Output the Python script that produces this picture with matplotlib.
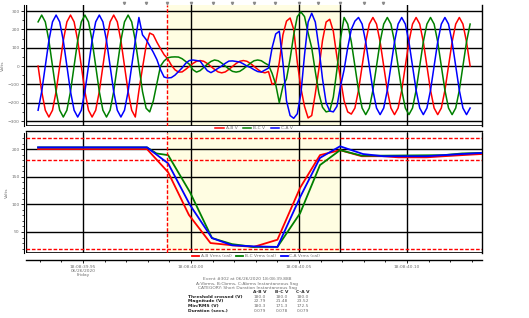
import numpy as np
import matplotlib
matplotlib.use("Agg")
import matplotlib.pyplot as plt
from matplotlib.ticker import MultipleLocator, FixedLocator, NullFormatter

# ---- waveform samples (V), 12 samples per 50 Hz cycle ----
wave_t0 = -20.8          # ms, first sample (relative to 18:08:39.95)
wave_dt = 20.0 / 12      # ms between samples

v_ab = [0, -139, -241, -278, -241, -139, 0, 139, 241, 278, 241, 139,
        0, -139, -241, -278, -241, -139, 0, 139, 241, 278, 241, 139,
        0, -139, -241, -278, -135, -10, 110, 180, 170, 130, 95, 62,
        40, 5, -20, -33, -32, -18, -2, 14, 26, 30, 26, 14,
        -2, -18, -32, -37, -32, -18, -2, 14, 26, 30, 26, 14,
        -2, -18, -32, -37, -30, -100, -90, 20, 170, 245, 262, 200,
        20, -120, -220, -283, -270, -150, -15, 140, 240, 255, 190, 50,
        -70, -190, -250, -262, -229, -132, 0, 132, 229, 265, 229, 132,
        0, -132, -229, -265, -229, -132, 0, 132, 229, 265, 229, 132,
        0, -132, -229, -265, -229, -132, 0, 132, 229, 265, 229, 132,
        0]
v_bc = [241, 278, 241, 139, 0, -139, -241, -278, -241, -139, 0, 139,
        241, 278, 241, 139, 0, -139, -241, -278, -241, -139, 0, 139,
        241, 278, 241, 139, 0, -139, -230, -250, -190, -95, 0, 28,
        45, 49, 50, 49, 40, 25, 10, -20, -33, -25, -8, 10,
        25, 33, 29, 16, 0, -16, -29, -33, -29, -16, 0, 16,
        29, 33, 29, 16, 5, -40, -100, -200, -110, -70, 40, 170,
        270, 295, 270, 180, 100, -30, -150, -225, -250, -245, -170, -20,
        150, 265, 229, 132, 0, -132, -229, -265, -229, -132, 0, 132,
        229, 265, 229, 132, 0, -132, -229, -265, -229, -132, 0, 132,
        229, 265, 229, 132, 0, -132, -229, -265, -229, -132, 0, 132,
        229]
v_ca = [-241, -139, 0, 139, 241, 278, 241, 139, 0, -139, -241, -278,
        -241, -139, 0, 139, 241, 278, 241, 139, 0, -139, -241, -278,
        -241, -139, 0, 139, 265, 170, 145, 110, 75, 35, -20, -60,
        -65, -63, -50, -30, -10, 15, 30, 33, 30, 27, 0, -25,
        -36, -25, -12, 0, 15, 27, 28, 25, 22, 12, 0, -8,
        -20, -30, -33, -22, -11, 100, 175, 190, 20, -190, -270, -285,
        -260, -150, 60, 240, 288, 240, 100, -70, -200, -245, -250, -220,
        -110, -20, 100, 200, 245, 265, 229, 132, 0, -132, -229, -265,
        -229, -132, 0, 132, 229, 265, 229, 132, 0, -132, -229, -265,
        -229, -132, 0, 132, 229, 265, 229, 132, 0, -132, -229, -265,
        -229]

# ---- half-cycle RMS (V) ----
rms_ab_t = [-20.8, 29.6, 39.4, 49.0, 59.0, 69.0, 79.0, 90.0, 100.5, 109.7, 119.0, 129.0, 139.0, 146.0, 159.0, 167.0, 175.5, 184.7]
rms_ab = [200, 200, 158, 81, 30, 26, 23, 36, 130, 189, 198, 187, 187, 185, 185, 187, 189, 191]
rms_bc_t = [-20.8, 29.6, 34.0, 39.4, 49.5, 59.7, 69.0, 79.0, 90.0, 100.5, 109.7, 119.0, 129.0, 139.0, 167.0, 175.5, 184.7]
rms_bc = [203, 203, 192, 189, 122, 39, 28, 23, 23, 84, 171, 198, 188, 188, 189, 192, 193]
rms_ca_t = [-20.8, 29.6, 39.4, 49.5, 59.7, 69.0, 79.0, 90.0, 100.5, 109.7, 119.0, 129.6, 139.0, 159.0, 167.0, 175.5, 184.7]
rms_ca = [203, 203, 174, 99, 39, 26, 24, 23, 113, 184, 205, 191, 187, 187, 189, 191, 193]

thresholds = [220, 180, 20]
sag_start, sag_end = 38.9, 119.0
marker_times = [19, 29, 39, 50, 60, 69, 79, 89, 100, 109, 119, 130, 139]

time_ticks = [0, 50, 100, 150]
time_labels = ["18:08:39.95\n06/26/2020\nFriday", "18:08:40.00", "18:08:40.05", "18:08:40.10"]

summary_cols = ["A-B V", "B-C V", "C-A V"]
summary_rows = ["Threshold crossed (V)", "Magnitude (V)", "Min/RMS (V)", "Duration (secs.)"]
summary_vals = [["180.0", "180.0", "180.0"],
                ["22.79", "21.48", "23.52"],
                ["180.3", "171.3", "172.5"],
                ["0.079", "0.078", "0.079"]]

RED, GREEN, BLUE = "#ff0000", "#008000", "#0000ff"
FS = 3.2
GRAY = "#707070"
DASH = (0, (2.6, 1.3))

W, H = 529, 318
fig = plt.figure(figsize=(W / 100, H / 100), dpi=100)


def box(l, t, r, b):
    return [l / W, 1 - b / H, (r - l) / W, (b - t) / H]


ax1 = fig.add_axes(box(26, 5, 482, 126))
ax2 = fig.add_axes(box(26, 133, 482, 253))

xlim = (-26.4, 184.7)
for ax in (ax1, ax2):
    ax.set_xlim(*xlim)
    ax.axvspan(sag_start, sag_end, color="#fffde2", zorder=0, lw=0)
    for x in time_ticks + [sag_end]:
        ax.axvline(x, color="black", lw=1, zorder=1)
    ax.axvline(sag_start, color=RED, lw=1, ls=DASH, zorder=4)
    ax.axvline(xlim[0], color="black", lw=1, zorder=1)
    ax.spines["top"].set_visible(False)
    ax.spines["right"].set_linewidth(1)
    ax.spines["left"].set_position(("outward", 1.5))
    ax.spines["left"].set_linewidth(0.8)
    ax.spines["bottom"].set_linewidth(1)
    ax.tick_params(axis="y", labelsize=FS, labelcolor=GRAY, length=2, width=0.6, pad=1)
    ax.tick_params(axis="y", which="minor", length=1.2, width=0.5)
    ax.tick_params(axis="x", which="both", width=0.6)
    ax.set_ylabel("Volts", fontsize=FS, color=GRAY, labelpad=2)

# ---- top: instantaneous waveforms ----
t_wave = wave_t0 + wave_dt * np.arange(len(v_ab))
ax1.set_ylim(-327, 333)
for y in [-300, -200, -100, 0, 100, 200, 300]:
    ax1.axhline(y, color="black", lw=1, zorder=1)
ax1.axhline(-327, color="black", lw=1.2, zorder=1)
ax1.set_yticks([-300, -200, -100, 0, 100, 200, 300])
ax1.yaxis.set_minor_locator(MultipleLocator(50))
ax1.spines["bottom"].set_position(("outward", 3.6))
ax1.xaxis.set_major_locator(FixedLocator([xlim[0], 0, sag_start, 50, 100, sag_end, 150, xlim[1]]))
ax1.xaxis.set_major_formatter(NullFormatter())
ax1.tick_params(axis="x", length=2)
l1, = ax1.plot(t_wave, v_ab, color=RED, lw=1.1, zorder=3)
l2, = ax1.plot(t_wave, v_bc, color=GREEN, lw=1.1, zorder=3)
l3, = ax1.plot(t_wave, v_ca, color=BLUE, lw=1.1, zorder=3)
ax1.plot(marker_times, [342] * len(marker_times), ls="none", marker="v", ms=1.6,
         color="#8a8a8a", clip_on=False)
leg = ax1.legend([l1, l2, l3], ["A-B V", "B-C V", "C-A V"], loc="center",
                 bbox_to_anchor=(0.5, -0.02), ncol=3, frameon=False, fontsize=FS,
                 handlelength=2.0, columnspacing=1.2, handletextpad=0.4, borderpad=0)
for txt in leg.get_texts():
    txt.set_color(GRAY)

# ---- bottom: RMS ----
ax2.set_ylim(12, 229)
for y in [50, 100, 150, 200]:
    ax2.axhline(y, color="black", lw=1, zorder=1)
ax2.axhline(12, color="black", lw=1.2, zorder=1)
for y in thresholds:
    ax2.axhline(y, color=RED, lw=1, ls=DASH, zorder=2)
ax2.set_yticks([50, 100, 150, 200])
ax2.yaxis.set_minor_locator(MultipleLocator(10))
ax2.spines["bottom"].set_position(("outward", 5))
ax2.set_xticks(time_ticks)
ax2.set_xticklabels(time_labels)
ax2.xaxis.set_minor_locator(MultipleLocator(10))
ax2.tick_params(axis="x", labelsize=FS, labelcolor=GRAY, length=2.5, pad=1)
ax2.tick_params(axis="x", which="minor", length=1.5)
for lab in ax2.get_xticklabels():
    lab.set_linespacing(1.1)
r1, = ax2.plot(rms_ab_t, rms_ab, color=RED, lw=1.3, zorder=3)
r2, = ax2.plot(rms_bc_t, rms_bc, color=GREEN, lw=1.3, zorder=3)
r3, = ax2.plot(rms_ca_t, rms_ca, color=BLUE, lw=1.3, zorder=3)
leg2 = ax2.legend([r1, r2, r3], ["A-B Vrms (cal)", "B-C Vrms (cal)", "C-A Vrms (cal)"],
                  loc="center", bbox_to_anchor=(0.505, -0.028), ncol=3, frameon=False,
                  fontsize=FS, handlelength=1.6, columnspacing=1.0, handletextpad=0.4,
                  borderpad=0)
for txt in leg2.get_texts():
    txt.set_color(GRAY)

# ---- event summary text ----
head = ["Event #302 at 06/26/2020 18:08:39.888",
        "A:Vbrms, B:Cbrms, C:Abrms Instantaneous Sag",
        "CATEGORY: Short Duration Instantaneous Sag"]
for i, s in enumerate(head):
    fig.text(247 / W, 1 - (279.5 + 4.4 * i) / H, s, fontsize=FS, color=GRAY,
             ha="center", va="center")
col_x = [260, 282, 303]
for cx, c in zip(col_x, summary_cols):
    fig.text(cx / W, 1 - 292 / H, c, fontsize=FS, color="#303030",
             fontweight="bold", ha="center", va="center")
for j, (name, vals) in enumerate(zip(summary_rows, summary_vals)):
    y = 1 - (296.5 + 4.8 * j) / H
    fig.text(188 / W, y, name, fontsize=FS, color="#202020", fontweight="bold",
             ha="left", va="center")
    for cx, v in zip(col_x, vals):
        fig.text(cx / W, y, v, fontsize=FS, color=GRAY, ha="center", va="center")

fig.savefig("out.png", dpi=100)
